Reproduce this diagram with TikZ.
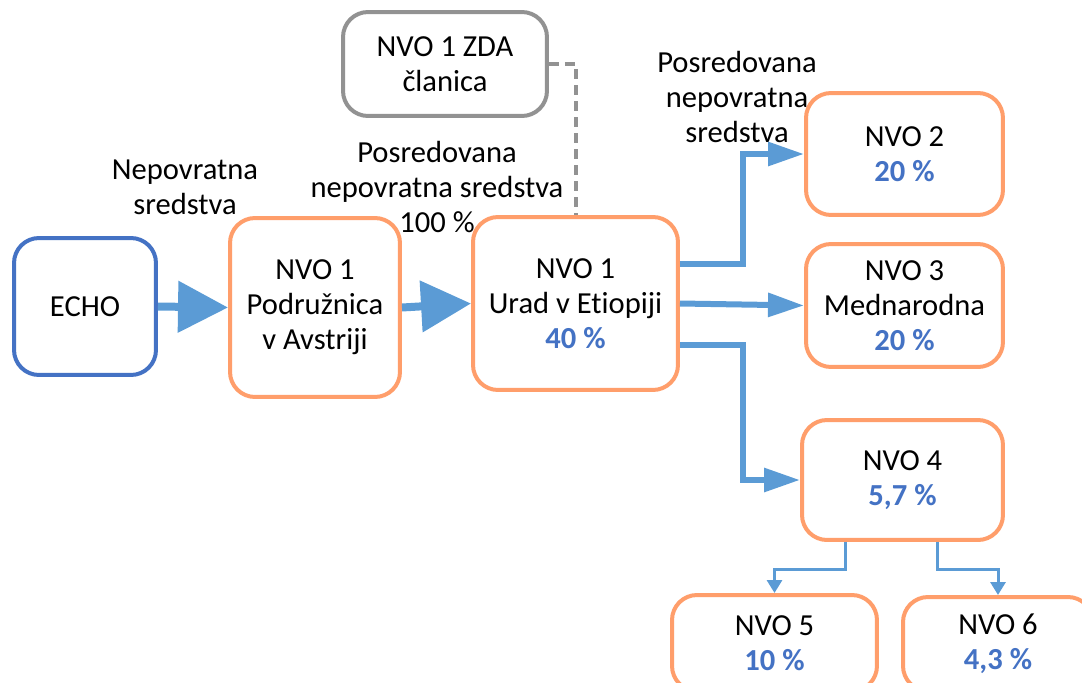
\documentclass[tikz,border=0pt]{standalone}
\usepackage{fontspec}
\setmainfont{Carlito}[Ligatures=NoCommon]
\usepackage{tikz}
\usetikzlibrary{arrows.meta,calc}
\definecolor{echoblue}{HTML}{4472C4}
\definecolor{flowblue}{HTML}{5B9BD5}
\definecolor{nvoorange}{HTML}{FF9E6B}
\definecolor{zdagray}{HTML}{929292}
\tikzstyle{box} = [draw, line width=0.08cm, rounded corners=0.5cm, align=center, fill=white]
\tikzstyle{nvo} = [box, draw=nvoorange]
\tikzstyle{label} = [align=center]
\tikzstyle{bigflow} = [draw=flowblue, line width=0.16cm, -{Triangle[length=1cm,width=1cm]}]
\tikzstyle{flow} = [draw=flowblue, line width=0.12cm, -{Triangle[length=0.72cm,width=0.46cm]}]
\tikzstyle{subflow} = [draw=flowblue, line width=0.06cm, -{Triangle[length=0.26cm,width=0.3cm]}]
\newcommand{\pct}[1]{\textcolor{echoblue}{\textbf{#1}}}

\begin{document}
\begin{tikzpicture}[x=0.02cm, y=-0.02cm, font=\fontsize{17.4}{20}\selectfont]
\useasboundingbox (0,0) rectangle (1082,683);
\clip (0,0) rectangle (1082,683);
% boxes
\node [box, draw=echoblue, minimum width=2.84cm, minimum height=2.74cm] (echo) at (85,306.5) {ECHO};
\node [nvo, minimum width=3.4cm, minimum height=3.58cm] (pod) at (315,307.5) {NVO 1\\Podružnica\\v Avstriji};
\node [nvo, minimum width=4.1cm, minimum height=3.46cm] (urad) at (575.5,303.5) {NVO 1\\Urad v Etiopiji\\\pct{40 \%}};
\node [box, draw=zdagray, minimum width=4.08cm, minimum height=2.08cm] (zda) at (445,64) {NVO 1 ZDA\\članica};
\node [nvo, minimum width=3.94cm, minimum height=2.44cm] (nvo2) at (904.5,154) {NVO 2\\\pct{20 \%}};
\node [nvo, minimum width=3.94cm, minimum height=2.46cm] (nvo3) at (904.5,305.5) {NVO 3\\Mednarodna\\\pct{20 \%}};
\node [nvo, minimum width=4.02cm, minimum height=2.4cm] (nvo4) at (902.5,480) {NVO 4\\\pct{5,7 \%}};
\node [nvo, minimum width=4.1cm, minimum height=1.92cm] (nvo5) at (774.5,643) {NVO 5\\\pct{10 \%}};
\node [nvo, minimum width=3.8cm, minimum height=1.88cm] (nvo6) at (998,644) {NVO 6\\\pct{4,3 \%}};

% labels
\node [label] (lblechos) at (185,187) {Nepovratna\\sredstva};
\node [label] (lblpod) at (437,187) {Posredovana\\nepovratna sredstva\\100 \%};
\node [label] (lblurad) at (737,97) {Posredovana\\nepovratna\\sredstva};

% flows
\draw [bigflow] (echo.east) -- (pod.west);
\draw [bigflow] (pod.east) -- (urad.west);
\draw [flow] ([yshift=0.8cm]urad.east) -- ++(63,0) |- (nvo2.west);
\draw [flow] (urad.east) -- (nvo3.west);
\draw [flow] ([yshift=-0.84cm]urad.east) -- ++(63,0) |- (nvo4.west);
\draw [subflow] ([xshift=-1.14cm]nvo4.south) -- ++(0,28) -| (nvo5.north);
\draw [subflow] ([xshift=0.69cm]nvo4.south) -- ++(0,28) -| (nvo6.north);
\draw [zdagray, line width=0.08cm, dash pattern=on 0.2cm off 0.12cm] (zda.east) -| (urad.north);
\end{tikzpicture}
\end{document}
